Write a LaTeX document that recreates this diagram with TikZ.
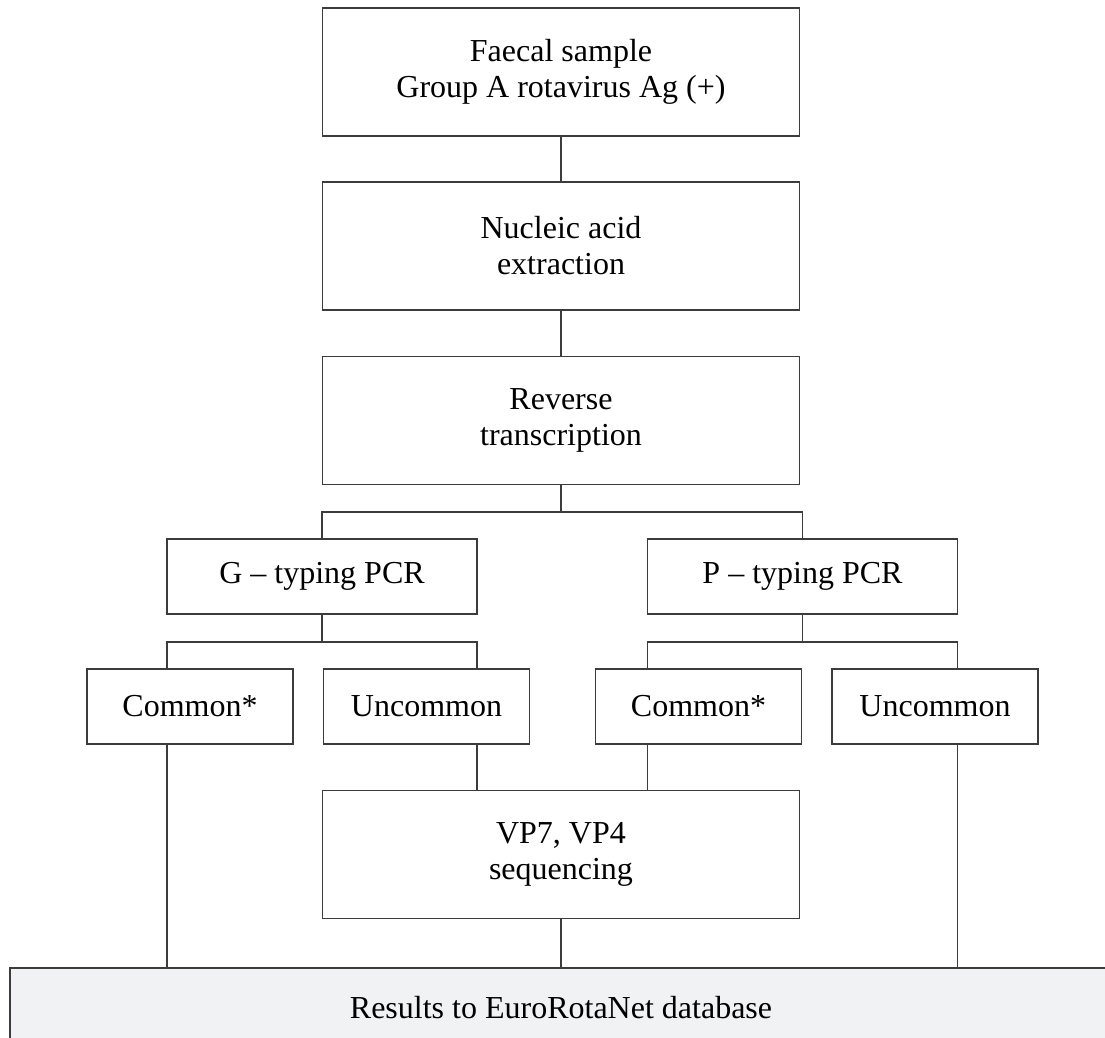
\documentclass[tikz,border=0pt]{standalone}
\usepackage{fontspec}
\setmainfont{Liberation Serif}
\usepackage{xcolor}
\usepackage{tikz}
\usetikzlibrary{positioning,calc}
\definecolor{linegray}{HTML}{3C3C3C}
\definecolor{resfill}{HTML}{F1F2F4}
\newcommand\boxfont{\fontsize{32}{36}\selectfont}
\tikzset{
  blk/.style    = {draw=linegray, fill=white, rectangle, align=center,
                   font=\boxfont, inner sep=0pt, outer sep=0pt, line width=1.3pt},
  bigblk/.style = {blk, minimum width=477pt, minimum height=128pt},
  pcrblk/.style = {blk, minimum width=310pt, minimum height=75pt},
  typblk/.style = {blk, minimum width=206pt, minimum height=75pt},
  resblk/.style = {blk, fill=resfill, anchor=north west,
                   minimum width=1102pt, minimum height=80pt},
  wire/.style   = {draw=linegray, line width=1.3pt}
}

\begin{document}
\begin{tikzpicture}[x=1pt, y=-1pt]
\useasboundingbox (0,0) rectangle (1105,1038);
\clip (0,0) rectangle (1105,1038);

% ---------- main column ----------
\node[bigblk] (fs)  at (561,72)    {Faecal sample\\Group A rotavirus Ag (+)};
\node[bigblk] (nae) at (561,246)   {Nucleic acid\\extraction};
\node[bigblk] (rt)  at (561,420.5) {Reverse\\transcription};

\draw[wire] (fs) -- (nae);
\draw[wire] (nae) -- (rt);

% ---------- typing PCRs ----------
\node[pcrblk] (gpcr) at (322,576.5)   {G -- typing PCR};
\node[pcrblk] (ppcr) at (802.5,576.5) {P -- typing PCR};

\coordinate (rtsplit) at (561,512);
\draw[wire] (rt) -- (rtsplit);
\draw[wire] (gpcr) |- (rtsplit) -| (ppcr);

% ---------- common / uncommon ----------
\node[typblk] (gcom) at (190,706.5)   {Common*};
\node[typblk] (gunc) at (426.5,706.5) {Uncommon};
\node[typblk] (pcom) at (698.5,706.5) {Common*};
\node[typblk] (punc) at (935,706.5)   {Uncommon};

\coordinate (gsplit) at (322,642);
\coordinate (psplit) at (802.5,642);
\draw[wire] (gpcr) -- (gsplit);
\draw[wire] (ppcr) -- (psplit);
\draw[wire] (gcom.north -| gpcr.south west) |- (gsplit) -| (gunc.north -| gpcr.south east);
\draw[wire] (pcom.north -| ppcr.south west) |- (psplit) -| (punc.north -| ppcr.south east);

% ---------- sequencing ----------
\node[bigblk] (vp) at (561,854.5) {VP7, VP4\\sequencing};

\draw[wire] (gunc.south -| gpcr.south east) -- (vp.north -| gpcr.south east);
\draw[wire] (pcom.south -| ppcr.south west) -- (vp.north -| ppcr.south west);

% ---------- results ----------
\node[resblk] (res) at (10,968) {Results to EuroRotaNet database};

\draw[wire] (vp) -- (res);
\draw[wire] (gcom.south -| gpcr.south west) -- (res.north -| gpcr.south west);
\draw[wire] (punc.south -| ppcr.south east) -- (res.north -| ppcr.south east);

\end{tikzpicture}
\end{document}
